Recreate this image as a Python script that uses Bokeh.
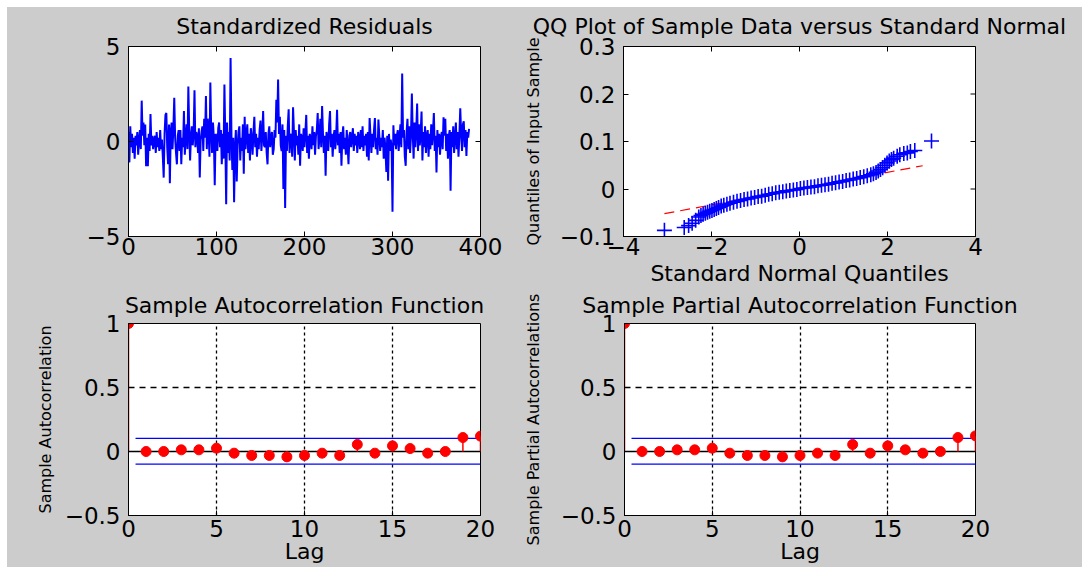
import math
from bokeh.plotting import figure
from bokeh.layouts import column, row, Spacer
from bokeh.models import FixedTicker, Range1d, LinearAxis
from bokeh.embed import file_html
from bokeh.resources import INLINE

GRAY = "#cccccc"
FONT = "DejaVu Sans"

# ---------------- data ----------------
residuals = [
    0.5, -1.1, 0.8, -0.3, 0.4, -0.6, 0.2, -0.9, 0.3, -0.2, 0.5, -0.7, 0.1, 0.6, -0.4, 2.15, 0.3, 1.0, -0.2, 0.9,
    -1.3, 0.2, -1.3, 0.4, -0.5, 1.44, -0.2, 0.3, -0.4, 0.1, 0.3, -0.6, 0.5, -0.3, 0.2, -0.5, 0.6, -0.4, 0.1, -0.8,
    -1.9, 0.4, 1.4, 1.5, -0.3, -1.2, 0.9, -2.2, 0.5, 1.0, -0.4, 0.7, 2.3, 0.2, -0.6, -1.2, 0.3, 0.6, -0.5, 0.6,
    -1.2, 0.2, -0.3, 1.6, -0.7, 0.2, 0.9, -0.4, 2.9, 0.6, -1.0, 0.3, 0.8, -0.2, 0.4, 2.7, -0.3, 0.5, 0.3, -0.6,
    0.7, -1.9, 0.1, 0.5, 0.8, -0.5, 1.2, 0.2, 2.4, -0.4, 1.2, 0.6, -0.8, 3.1, 0.5, -0.6, 1.0, 0.2, -2.3, 0.4,
    0.3, -0.5, 0.7, 1.0, -0.3, 0.6, -1.2, 0.4, -0.9, 3.0, 0.2, -3.3, 1.0, -0.6, 0.5, -1.0, 4.4, 0.3, -1.5, 0.2,
    -3.2, -0.4, 0.6, -2.1, -0.2, 0.5, 0.8, -1.0, 0.2, -0.5, 0.9, -1.7, 1.3, -0.4, 0.3, 0.9, -0.6, 0.4, -1.0, 0.7,
    0.2, -0.7, 0.5, 1.3, -0.3, 0.4, -0.8, 0.2, -0.4, 0.6, 1.1, -0.5, 0.3, 1.6, -0.2, -0.3, 0.5, -0.6, -1.2, 0.4,
    0.8, -0.3, 0.2, 0.5, -0.7, -0.4, 0.6, 0.2, 2.2, 1.0, 3.26, 0.4, 1.3, -0.2, -0.5, 0.9, -2.5, 0.6, -3.5, 0.3,
    -0.5, 0.8, 1.7, -0.6, 0.4, 0.3, -0.8, 1.8, 0.5, -1.0, 0.6, -0.2, 0.3, -0.7, 0.9, -1.28, 0.4, 0.2, -0.5, 0.7,
    -0.3, 0.5, 1.4, -0.6, 0.3, -0.9, 0.4, 0.1, -0.4, 0.8, -0.2, 0.5, -0.7, 0.3, 0.6, 1.5, -0.4, 0.2, 1.2, -0.3,
    1.87, 0.4, -0.6, 0.3, -1.8, 0.5, 0.2, -0.5, 0.9, 1.6, -0.3, 0.4, -0.8, 0.2, 0.6, -0.4, 0.3, 1.67, -0.2, 0.4,
    -0.6, 0.5, -1.28, 0.3, 0.8, -0.4, 0.2, -0.7, 0.6, -0.2, -1.2, 0.3, 0.5, -0.3, 0.2, 0.7, -0.5, 0.4, -0.2, 0.3,
    -0.6, 0.5, 0.2, -0.4, 0.6, -0.3, 0.8, -0.5, 0.3, -0.2, 0.4, -0.8, 0.5, -1.0, 1.23, 0.3, -0.6, 0.4, -0.3, 0.6,
    1.23, -0.4, 0.2, -0.7, 1.15, 0.3, -0.5, 0.2, -0.3, 0.6, -0.9, 0.2, -0.4, -1.6, 0.3, -2.07, 0.4, -0.5, 0.1, -0.3,
    -3.7, 0.85, -0.2, 0.4, -0.4, 0.3, 0.6, -0.5, 0.2, 0.9, -0.3, 3.58, 0.2, 0.6, -0.8, -1.28, 0.5, 1.2, -0.4, 0.8,
    -0.6, 0.3, 2.53, 0.4, -0.9, 1.0, -0.3, 0.6, 2.0, -0.5, 0.9, -0.2, 0.4, 1.58, -1.0, 0.5, -0.3, 0.8, -0.6, 0.3,
    0.6, -0.8, 0.4, -0.4, 0.9, -0.2, 0.5, 1.5, -0.5, 0.3, -1.63, 0.6, -0.3, 0.4, -0.7, 0.2, 0.5, -0.4, 1.28, 0.3,
    1.2, -0.5, 0.4, -0.9, 0.3, 0.6, -2.59, 0.5, -0.3, 0.8, -0.6, 0.2, 1.0, -0.4, 0.5, -0.8, 0.3, 1.75, 0.4, -0.5,
    0.9, 1.06, -0.3, 0.6, -0.76, 0.5, 0.2, 0.66,
]
res_index = list(range(len(residuals)))
res_xticks = [0, 100, 200, 300, 400]
res_yticks = [-5, 0, 5]

qq_theoretical = [
    -3.07, -2.62, -2.52, -2.44, -2.36, -2.29,
    -2.24, -2.19, -2.14, -2.09, -2.04, -1.99, -1.94, -1.89, -1.84, -1.78, -1.72, -1.65, -1.58, -1.50,
    -1.42, -1.34, -1.26, -1.18, -1.10, -1.02, -0.94, -0.86, -0.78, -0.70, -0.62, -0.54, -0.46, -0.38,
    -0.30, -0.22, -0.14, -0.06, 0.02, 0.10, 0.18, 0.26, 0.34, 0.42, 0.50, 0.58, 0.66, 0.74, 0.82, 0.90,
    0.98, 1.06, 1.14, 1.22, 1.30, 1.38, 1.46, 1.54, 1.62, 1.68, 1.74, 1.79, 1.84, 1.89, 1.94, 1.99,
    2.04, 2.09,
    2.14, 2.22, 2.28, 2.37, 2.45, 2.52, 2.62, 3.00,
]
qq_sample = [
    -0.087, -0.081, -0.077, -0.072, -0.066, -0.059,
    -0.056, -0.053, -0.051, -0.049, -0.047, -0.045, -0.043, -0.041, -0.039, -0.036, -0.034, -0.032, -0.030, -0.028,
    -0.026, -0.024, -0.022, -0.021, -0.019, -0.018, -0.016, -0.015, -0.013, -0.011, -0.010, -0.008, -0.007, -0.006,
    -0.004, -0.003, -0.002, -0.001, 0.001, 0.002, 0.003, 0.004, 0.005, 0.007, 0.008, 0.009, 0.010, 0.012, 0.013, 0.015,
    0.016, 0.018, 0.019, 0.021, 0.022, 0.024, 0.026, 0.028, 0.030, 0.032, 0.035, 0.038, 0.041, 0.045, 0.050, 0.055,
    0.059, 0.062,
    0.065, 0.069, 0.072, 0.075, 0.076, 0.079, 0.081, 0.101,
]
qq_ref_x = [-3.07, 2.80]
qq_ref_y = [-0.052, 0.049]
qq_xticks = [-4, -2, 0, 2, 4]
qq_yticks = [-0.1, 0, 0.1, 0.2, 0.3]

lags = list(range(21))
acf_values = [1.0, 0.0, 0.0, 0.013, 0.013, 0.026, -0.013, -0.031, -0.031, -0.042, -0.031,
              -0.013, -0.031, 0.055, -0.013, 0.044, 0.023, -0.013, 0.0, 0.109, 0.12]
pacf_values = [1.0, 0.0, 0.0, 0.013, 0.013, 0.026, -0.013, -0.031, -0.031, -0.042, -0.031,
               -0.013, -0.031, 0.055, -0.013, 0.044, 0.013, -0.013, 0.0, 0.109, 0.122]
bound_lags = [0.4, 20]
upper_bound = [0.102, 0.102]
lower_bound = [-0.098, -0.098]
zero_lags = [0, 20]
zero_line = [0, 0]
lag_ticks = [0, 5, 10, 15, 20]
corr_ticks = [-0.5, 0, 0.5, 1]


def make_fig(width, height, xr, yr, bl, br, bt, bb, title, title_gap, xticks, yticks,
             xlabel=None, ylabel=None, x_std=1, x_lab_std=0, y_lab_std=20, box_ticks=True):
    p = figure(width=width, height=height, x_range=Range1d(*xr), y_range=Range1d(*yr),
               output_backend="svg", toolbar_location=None,
               min_border_left=bl, min_border_right=br, min_border_top=bt, min_border_bottom=bb,
               background_fill_color="white", border_fill_color=GRAY,
               outline_line_color="black", outline_line_width=1)
    bottom = p.below[0]
    left = p.left[0]
    for ax, ticks in ((bottom, xticks), (left, yticks)):
        ax.ticker = FixedTicker(ticks=ticks)
        ax.major_label_text_font = FONT
        ax.major_label_text_font_size = "23px"
        ax.major_label_text_color = "black"
        ax.major_tick_in = 5
        ax.major_tick_out = 0
        ax.minor_tick_line_color = None
        ax.axis_line_color = "black"
        ax.major_tick_line_color = "black"
        ax.axis_label_text_font = FONT
        ax.axis_label_text_font_style = "normal"
        ax.axis_label_text_color = "black"
    bottom.major_label_standoff = x_std
    left.major_label_standoff = 8
    if xlabel:
        bottom.axis_label = xlabel
        bottom.axis_label_text_font_size = "22px"
        bottom.axis_label_standoff = x_lab_std
    if ylabel:
        left.axis_label = ylabel
        left.axis_label_text_font_size = "16px"
        left.axis_label_standoff = y_lab_std
    # title: label of a tick-less axis above the box, so its gap can be set exactly
    head = LinearAxis(ticker=FixedTicker(ticks=[]), axis_label=title,
                      axis_label_standoff=title_gap, axis_label_text_font=FONT,
                      axis_label_text_font_size="22px", axis_label_text_font_style="normal",
                      axis_label_text_color="black", axis_line_color=None,
                      major_tick_line_color=None, minor_tick_line_color=None,
                      major_tick_in=0, major_tick_out=0, major_label_standoff=0)
    p.add_layout(head, "above")
    p.xgrid.visible = False
    p.ygrid.visible = False
    if box_ticks:
        # inward tick marks on the top and right edges of the box
        top_y = [yr[1]] * len(xticks)
        right_x = [xr[1]] * len(yticks)
        p.ray(x=xticks, y=top_y, length=5, length_units="screen", angle=-math.pi / 2,
              line_color="black", line_width=1)
        p.ray(x=right_x, y=yticks, length=5, length_units="screen", angle=math.pi,
              line_color="black", line_width=1)
    return p


TOP_H = 281
BOT_H = 279
TOP_BT = 39
BOT_BT = 35

# Standardized residuals
p1 = make_fig(513, TOP_H, (0, 400), (-5, 5), 121, 40, TOP_BT, TOP_H - TOP_BT - 192,
              "Standardized Residuals", 8, res_xticks, res_yticks)
p1.line(res_index, residuals, line_color="#0000ff", line_width=2)

# QQ plot
p2 = make_fig(562, TOP_H, (-4, 4), (-0.1, 0.3), 103, 107, TOP_BT, TOP_H - TOP_BT - 192,
              "QQ Plot of Sample Data versus Standard Normal", 8, qq_xticks, qq_yticks,
              xlabel="Standard Normal Quantiles", ylabel="Quantiles of Input Sample",
              x_std=1, x_lab_std=3, y_lab_std=14)
p2.line(qq_ref_x, qq_ref_y, line_color="#ff0000", line_width=1.2, line_dash="10 6")
p2.scatter(qq_theoretical, qq_sample, marker="cross", size=15, line_color="#0000ff",
           line_width=1.6)


def corr_fig(width, bl, br, title, values, ylabel, y_lab_std):
    p = make_fig(width, BOT_H, (0, 20), (-0.5, 1), bl, br, BOT_BT, BOT_H - BOT_BT - 192, title, 6,
                 lag_ticks, corr_ticks, xlabel="Lag", ylabel=ylabel, x_std=4, x_lab_std=-1,
                 y_lab_std=y_lab_std, box_ticks=False)
    p.xgrid.visible = True
    p.ygrid.visible = True
    p.xgrid.ticker = FixedTicker(ticks=[5, 10, 15])
    p.ygrid.ticker = FixedTicker(ticks=[0.5])
    p.xgrid.grid_line_color = "black"
    p.ygrid.grid_line_color = "black"
    p.xgrid.grid_line_dash = "3 3"
    p.ygrid.grid_line_dash = "6 5"
    p.xgrid.grid_line_width = 1.3
    p.ygrid.grid_line_width = 1.3
    p.line(zero_lags, zero_line, line_color="black", line_width=1.3)
    p.line(bound_lags, upper_bound, line_color="#0000ff", line_width=1.2)
    p.line(bound_lags, lower_bound, line_color="#0000ff", line_width=1.2)
    p.segment(x0=lags, y0=[0] * len(lags), x1=lags, y1=values, line_color="#ff0000", line_width=1.5)
    p.scatter(lags, values, size=10, fill_color="#ff0000", line_color="#ff0000")
    return p


p3 = corr_fig(513, 121, 40, "Sample Autocorrelation Function", acf_values,
              "Sample Autocorrelation", 7)
p4 = corr_fig(562, 103, 107, "Sample Partial Autocorrelation Function", pacf_values,
              "Sample Partial Autocorrelations", 15)

panel = column(row(p1, p2, spacing=0, styles={"background-color": GRAY}),
               row(p3, p4, spacing=0, styles={"background-color": GRAY}),
               spacing=0, styles={"background-color": GRAY})
layout = column(Spacer(height=7), row(Spacer(width=7), panel))

open("out.html", "w").write(file_html(layout, INLINE))
